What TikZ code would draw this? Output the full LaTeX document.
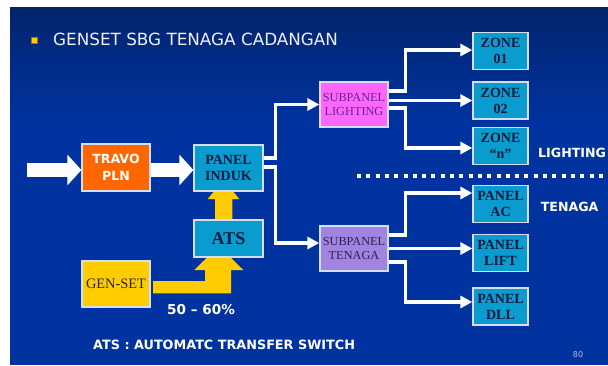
\documentclass[tikz,border=0pt]{standalone}
\usepackage{fontspec}
\setmainfont{Liberation Serif}
\newfontfamily\djs{DejaVu Sans}
\usetikzlibrary{arrows.meta}
\definecolor{bgtop}{HTML}{02246C}
\definecolor{bgmid}{HTML}{0033A0}
\definecolor{cyanbox}{HTML}{0A9BCF}
\definecolor{edgec}{HTML}{D4DEEE}
\definecolor{orangebox}{HTML}{FF6600}
\definecolor{magbox}{HTML}{FF66FF}
\definecolor{lavbox}{HTML}{A184E0}
\definecolor{yel}{HTML}{FFCC00}
\definecolor{navytext}{HTML}{0A1A40}
\definecolor{purptext}{HTML}{6A2486}
\definecolor{lavtext}{HTML}{2E2050}
\definecolor{titlec}{HTML}{EEF0F6}
\definecolor{pagec}{HTML}{B8C0DC}
\begin{document}
\begin{tikzpicture}[x=1pt,y=-1pt,
  box/.style={draw=edgec,line width=1.3pt,inner sep=0pt,align=center},
  cbox/.style={box,fill=cyanbox,text=navytext,font=\fontsize{14}{16}\selectfont\bfseries},
  zbox/.style={cbox,minimum width=55pt,minimum height=37pt},
  subbox/.style={box,minimum width=68pt,minimum height=45pt,font=\fontsize{12.3}{14.4}\selectfont},
  conn/.style={draw=white,line width=3.6pt,-{Triangle[length=12pt,width=12pt]}},
  bigarr/.style={draw=white,line width=13.5pt,-{Triangle[length=14pt,width=30pt]}},
  lbl/.style={text=white,inner sep=0pt,font=\djs\bfseries\fontsize{12.6}{17.5}\selectfont}]
\useasboundingbox (0,0) rectangle (608,365);
% background
\fill[white] (0,0) rectangle (608,365);
\shade[top color=bgtop,bottom color=bgmid] (10,7) rectangle (608,121);
\fill[bgmid] (10,120) rectangle (608,365);
% title
\fill[yel,draw=yel!60!black,line width=0.4pt] (30.7,37.3) rectangle (36.7,43.3);
\node[anchor=west,inner sep=0pt,text=titlec,font=\djs\fontsize{16.8}{19}\selectfont] (title) at (53,39.5) {GENSET SBG TENAGA CADANGAN};
% yellow arrows (drawn under boxes)
\fill[yel] (215,222) -- (215,199) -- (207.7,199) -- (223.5,180) -- (239.3,199) -- (232.3,199) -- (232.3,222) -- cycle;
\fill[yel] (153,281) -- (205,281) -- (205,270) -- (194.3,270) -- (218.8,246) -- (243.3,270) -- (231,270) -- (231,293.3) -- (153,293.3) -- cycle;
% nodes
\node[box,lbl,fill=orangebox,minimum width=68pt,minimum height=47pt] (TRAVO) at (116,167.5) {TRAVO\\PLN};
\node[cbox,minimum width=69pt,minimum height=46pt] (INDUK) at (228.5,168) {PANEL\\INDUK};
\node[cbox,minimum width=69pt,minimum height=37pt,font=\fontsize{18}{20}\selectfont\bfseries] (ATS) at (228.5,238.5) {ATS};
\node[box,fill=yel,text=black!85,minimum width=68pt,minimum height=46pt,font=\fontsize{14.4}{16}\selectfont] (GENSET) at (116,284) {GEN-SET};
\node[subbox,fill=magbox,text=purptext] (SUBL) at (354,104.5) {SUBPANEL\\LIGHTING};
\node[subbox,fill=lavbox,text=lavtext] (SUBT) at (354,248.5) {SUBPANEL\\TENAGA};
\node[zbox] (ZONEA) at (500.5,51) {ZONE\\01};
\node[zbox] (ZONEB) at (500.5,100.5) {ZONE\\02};
\node[zbox] (ZONEC) at (500.5,146) {ZONE\\“n”};
\node[zbox] (AC) at (500.5,204) {PANEL\\AC};
\node[zbox] (LIFT) at (500.5,253) {PANEL\\LIFT};
\node[zbox] (DLL) at (500.5,306.5) {PANEL\\DLL};
% big white arrows
\coordinate (src) at (27,170);
\draw[bigarr] (src) -- (src -| TRAVO.west);
\draw[bigarr] (TRAVO.east |- src) -- (INDUK.west |- src);
% connectors
\draw[conn] ([yshift=10pt]INDUK.east) -- ++(12,0) |- (SUBL.west);
\draw[conn] ([yshift=1pt]INDUK.east) -- ++(12,0) |- ([yshift=5.5pt]SUBT.west);
\draw[conn] ([yshift=13.5pt]SUBL.east) -- ++(17,0) |- ([yshift=1pt]ZONEA.west);
\draw[conn] (SUBL.east |- ZONEB.west) -- (ZONEB.west);
\draw[conn] ([yshift=-3.5pt]SUBL.east) -- ++(17,0) |- ([yshift=-2pt]ZONEC.west);
\draw[conn] ([yshift=13.5pt]SUBT.east) -- ++(17,0) |- ([yshift=11pt]AC.west);
\draw[conn] (SUBT.east) -- (SUBT.east -| LIFT.west);
\draw[conn] ([yshift=-13.5pt]SUBT.east) -- ++(17,0) |- ([yshift=4.5pt]DLL.west);
% separator
\draw[white,line width=4pt,dash pattern=on 4pt off 5.3pt] (357,176) -- (608,176);
% labels
\node[lbl,anchor=west] (lighting) at (538,153) {LIGHTING};
\node[lbl,anchor=west] (tenaga) at (540.7,207) {TENAGA};
\node[lbl,font=\djs\bfseries\fontsize{13.6}{15}\selectfont] (pct) at (201,310) {50 – 60\%};
\node[lbl,anchor=west,font=\djs\bfseries\fontsize{12.8}{15}\selectfont] (atsnote) at (93,345) {ATS : AUTOMATC TRANSFER SWITCH};
\node[inner sep=0pt,text=pagec,font=\djs\fontsize{8}{9}\selectfont] (pg) at (578,355) {80};
\end{tikzpicture}
\end{document}
